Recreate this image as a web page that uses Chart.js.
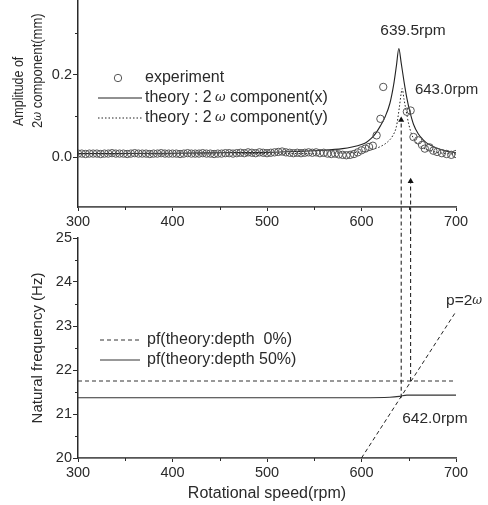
<!DOCTYPE html>
<html lang="en">
<head>
<meta charset="UTF-8">
<title>Amplitude and natural frequency vs rotational speed</title>
<script src="https://cdn.jsdelivr.net/npm/chart.js"></script>
<style>
  * { margin: 0; padding: 0; box-sizing: border-box; }
  body { background: #fff; width: 488px; height: 505px; overflow: hidden; position: relative; }
  .box { position: absolute; left: 0; width: 488px; }
  #topBox { top: 0; height: 230px; }
  #botBox { top: 230px; height: 275px; }
</style>
</head>
<body>

<div class="box" id="topBox"><canvas id="ampChart" width="488" height="230"></canvas></div>
<div class="box" id="botBox"><canvas id="freqChart" width="488" height="275"></canvas></div>

<script>
// ---- data ----
const expRpm = [300,304,308,312,316,320,324,328,332,336,340,344,348,352,356,360,364,368,372,376,
  380,384,388,392,396,400,404,408,412,416,420,424,428,432,436,440,444,448,452,456,460,464,468,472,476,
  480,484,488,492,496,500,504,508,512,516,520,524,528,532,536,540,544,548,552,556,560,564,568,572,576,
  580,584,588,592,596,600,604,608,612,616,620,623,648,652,655,660,664,667,672,676,680,685,690,695,700];
const expAmp = [0.009,0.009,0.008,0.009,0.009,0.009,0.008,0.009,0.009,0.010,0.009,0.009,0.009,0.008,0.009,0.010,0.009,0.009,0.009,0.008,
  0.009,0.009,0.010,0.009,0.009,0.009,0.009,0.008,0.009,0.010,0.009,0.009,0.009,0.010,0.009,0.009,0.008,0.009,0.009,0.010,0.010,0.009,0.010,0.011,0.010,
  0.012,0.011,0.010,0.012,0.011,0.010,0.011,0.012,0.013,0.014,0.012,0.011,0.010,0.011,0.010,0.011,0.012,0.011,0.012,0.010,0.011,0.009,0.008,0.009,0.007,
  0.006,0.005,0.006,0.008,0.012,0.017,0.021,0.025,0.028,0.053,0.093,0.170,0.110,0.113,0.049,0.041,0.030,0.021,0.024,0.016,0.013,0.010,0.008,0.006,0.008];

const thXRpm = [300,400,450,500,530,560,580,590,600,605,610,615,620,625,630,634,637,639.5,642,645,648,651,655,660,665,670,680,690,700];
const thXAmp = [0.009,0.010,0.011,0.012,0.014,0.017,0.021,0.025,0.031,0.036,0.045,0.058,0.076,0.098,0.130,0.175,0.222,0.263,0.228,0.183,0.143,0.112,0.080,0.057,0.043,0.033,0.022,0.015,0.011];

const thYRpm = [300,400,500,560,600,610,620,628,633,637,640,642,643,645,647,650,653,657,662,670,680,690,700];
const thYAmp = [0.008,0.008,0.009,0.010,0.013,0.018,0.026,0.038,0.052,0.075,0.120,0.155,0.166,0.140,0.115,0.080,0.056,0.038,0.027,0.018,0.012,0.009,0.008];

const pf0Rpm = [300,700];
const pf0Hz = [21.75,21.75];
const pf50Rpm = [300,600,630,640,648,700];
const pf50Hz = [21.37,21.37,21.38,21.40,21.43,21.43];
const p2wRpm = [600,700];
const p2wHz = [20,23.33];

const arrowRpm = [642,652];
const arrowBaseHz = [21.37,21.75];
const arrowTipAmp = [0.09,-0.058];

const xTicks = [300,350,400,450,500,550,600,650,700];
const ampTicks = [0,0.1,0.2,0.3];
const hzTicks = [20,20.5,21,21.5,22,22.5,23,23.5,24,24.5,25];

// ---- helpers ----
const FAM = '"Liberation Sans", Arial, sans-serif';
const INK = '#2a2a2a';
const pts = (xs, ys) => xs.map((x, i) => ({ x: x, y: ys[i] }));

function richText(ctx, str, x, y, size, align) {
  const parts = str.split('ω');
  const segs = [];
  parts.forEach((p, i) => {
    if (p) segs.push([p, size + 'px ' + FAM]);
    if (i < parts.length - 1) segs.push(['ω', 'italic ' + Math.round(size * 0.8) + 'px "DejaVu Serif", serif']);
  });
  let w = 0;
  segs.forEach(s => { ctx.font = s[1]; w += ctx.measureText(s[0]).width; });
  let cx = align === 'center' ? x - w / 2 : x;
  ctx.textAlign = 'left';
  ctx.textBaseline = 'middle';
  segs.forEach(s => { ctx.font = s[1]; ctx.fillText(s[0], cx, y); cx += ctx.measureText(s[0]).width; });
}

// titles, notes, legend and short minor ticks
const decor = {
  id: 'decor',
  afterDraw(chart, args, o) {
    const { ctx, scales: { x, y } } = chart;
    ctx.save();
    ctx.fillStyle = INK;
    ctx.strokeStyle = INK;

    // minor ticks
    ctx.lineWidth = 1;
    ctx.beginPath();
    (o.minorX || []).forEach(v => { const px = Math.round(x.getPixelForValue(v)) + 0.5; ctx.moveTo(px, x.top); ctx.lineTo(px, x.top + 3); });
    (o.minorY || []).forEach(v => { const py = Math.round(y.getPixelForValue(v)) + 0.5; ctx.moveTo(y.right, py); ctx.lineTo(y.right - 3, py); });
    ctx.stroke();

    (o.titles || []).forEach(t => {
      ctx.save();
      ctx.translate(t.x, t.y);
      if (t.rot) ctx.rotate(-Math.PI / 2);
      if (t.sx) ctx.scale(t.sx, 1);
      richText(ctx, t.text, 0, 0, t.size, t.align);
      ctx.restore();
    });

    (o.notes || []).forEach(n => {
      richText(ctx, n.text, x.getPixelForValue(n.rpm), y.getPixelForValue(n.val), n.size, n.align);
    });

    (o.legend || []).forEach(l => {
      const ds = chart.data.datasets[l.ds];
      ctx.save();
      ctx.strokeStyle = ds.borderColor;
      ctx.lineWidth = 1;
      if (l.kind === 'point') {
        ctx.beginPath();
        ctx.arc(l.x1, l.y, ds.pointRadius, 0, Math.PI * 2);
        ctx.stroke();
      } else {
        ctx.setLineDash(ds.borderDash || []);
        ctx.beginPath();
        ctx.moveTo(l.x1, l.y);
        ctx.lineTo(l.x2, l.y);
        ctx.stroke();
      }
      ctx.restore();
      richText(ctx, l.text, l.tx, l.y, l.size, 'left');
    });
    ctx.restore();
  }
};

function axisX(height) {
  return {
    type: 'linear', min: 300, max: 700,
    afterBuildTicks: s => { s.ticks = xTicks.map(v => ({ value: v })); },
    afterFit: s => { s.height = height; s.paddingLeft = 0; s.paddingRight = 0; },
    ticks: { callback: v => (v % 100 === 0 ? v : ''), padding: 2, maxRotation: 0, autoSkip: false, color: INK, font: { size: 14.5 } },
    grid: { drawOnChartArea: false, tickLength: 4, tickColor: c => (c.tick && c.tick.value % 100 === 0 ? INK : 'rgba(0,0,0,0)') },
    border: { color: '#555', width: 1.8 }
  };
}

function axisY(min, max, list, isMajor, fmt) {
  return {
    min: min, max: max,
    afterBuildTicks: s => { s.ticks = list.map(v => ({ value: v })); },
    afterFit: s => { s.width = 78; s.paddingTop = 0; s.paddingBottom = 0; },
    ticks: { callback: v => (isMajor(v) ? fmt(v) : ''), padding: 1, autoSkip: false, color: INK, font: { size: 14.5 } },
    grid: { drawOnChartArea: false, tickLength: 5, tickColor: c => (c.tick && isMajor(c.tick.value) ? INK : 'rgba(0,0,0,0)') },
    border: { color: INK, width: 1.5 }
  };
}

function arrowSet(i, fromVal, toVal, head) {
  return {
    data: [{ x: arrowRpm[i], y: fromVal }, { x: arrowRpm[i], y: toVal }],
    borderColor: '#111', borderWidth: 1, borderDash: [4, 3],
    pointStyle: 'triangle', pointRadius: c => (head && c.dataIndex === 1 ? 3.5 : 0),
    pointBackgroundColor: '#111', pointBorderWidth: 0,
    clip: false
  };
}

Chart.defaults.font.family = FAM;
Chart.defaults.color = INK;

const ampMajor = v => Math.abs(v) < 1e-9 || Math.abs(v - 0.2) < 1e-9;

new Chart(document.getElementById('ampChart'), {
  type: 'line',
  data: {
    datasets: [
      { data: pts(expRpm, expAmp), showLine: false, pointStyle: 'circle', pointRadius: 3.7, pointBorderWidth: 1,
        borderColor: '#555', pointBorderColor: '#555', pointBackgroundColor: 'rgba(0,0,0,0)' },
      { data: pts(thXRpm, thXAmp), borderColor: '#222', borderWidth: 1.1, pointRadius: 0, cubicInterpolationMode: 'monotone' },
      { data: pts(thYRpm, thYAmp), borderColor: '#222', borderWidth: 1, borderDash: [1.5, 2], pointRadius: 0, cubicInterpolationMode: 'monotone' },
      arrowSet(0, -0.3, arrowTipAmp[0], true),
      arrowSet(1, -0.3, arrowTipAmp[1], true)
    ]
  },
  options: {
    responsive: false, animation: false, events: [],
    layout: { autoPadding: false, padding: { left: 0, right: 32, top: 0, bottom: 0 } },
    plugins: {
      legend: { display: false }, tooltip: { enabled: false },
      decor: {
        minorX: [350, 450, 550, 650],
        minorY: [0.1, 0.3],
        titles: [
          { text: 'Amplitude of', x: 19, y: 126, rot: true, size: 14.5, sx: 0.86, align: 'left' },
          { text: '2ω component(mm)', x: 38, y: 128, rot: true, size: 14.5, sx: 0.9, align: 'left' }
        ],
        notes: [
          { text: '639.5rpm', rpm: 654.5, val: 0.305, size: 15.5, align: 'center' },
          { text: '643.0rpm', rpm: 656.5, val: 0.163, size: 15, align: 'left' }
        ],
        legend: [
          { kind: 'point', ds: 0, x1: 118, y: 78, tx: 145, text: 'experiment', size: 16 },
          { kind: 'line', ds: 1, x1: 98, x2: 142, y: 98, tx: 145, text: 'theory : 2\u2009ω component(x)', size: 16 },
          { kind: 'line', ds: 2, x1: 98, x2: 142, y: 118, tx: 145, text: 'theory : 2\u2009ω component(y)', size: 16 }
        ]
      }
    },
    scales: {
      x: axisX(23),
      y: axisY(-0.12, 0.38, ampTicks, ampMajor, v => v.toFixed(1))
    }
  },
  plugins: [decor]
});

const hzMajor = v => Number.isInteger(v);

new Chart(document.getElementById('freqChart'), {
  type: 'line',
  data: {
    datasets: [
      { data: pts(pf0Rpm, pf0Hz), borderColor: '#333', borderWidth: 1, borderDash: [4, 3], pointRadius: 0 },
      { data: pts(pf50Rpm, pf50Hz), borderColor: '#333', borderWidth: 1.1, pointRadius: 0, cubicInterpolationMode: 'monotone' },
      { data: pts(p2wRpm, p2wHz), borderColor: '#222', borderWidth: 1, borderDash: [4, 3], pointRadius: 0 },
      arrowSet(0, arrowBaseHz[0], 26, false),
      arrowSet(1, arrowBaseHz[1], 26, false)
    ]
  },
  options: {
    responsive: false, animation: false, events: [],
    layout: { autoPadding: false, padding: { left: 0, right: 32, top: 8, bottom: 0 } },
    plugins: {
      legend: { display: false }, tooltip: { enabled: false },
      decor: {
        minorX: [350, 450, 550, 650],
        minorY: [20.5, 21.5, 22.5, 23.5, 24.5],
        titles: [
          { text: 'Natural frequency (Hz)', x: 38, y: 118, rot: true, size: 15, align: 'center' },
          { text: 'Rotational speed(rpm)', x: 267, y: 264, size: 16, align: 'center' }
        ],
        notes: [
          { text: 'p=2ω', rpm: 689.5, val: 23.57, size: 15.5, align: 'left' },
          { text: '642.0rpm', rpm: 643, val: 20.9, size: 15.5, align: 'left' }
        ],
        legend: [
          { kind: 'line', ds: 0, x1: 100, x2: 140, y: 110, tx: 147, text: 'pf(theory:depth  0%)', size: 16 },
          { kind: 'line', ds: 1, x1: 100, x2: 140, y: 130, tx: 147, text: 'pf(theory:depth 50%)', size: 16 }
        ]
      }
    },
    scales: {
      x: axisX(47),
      y: axisY(20, 25, hzTicks, hzMajor, v => String(v))
    }
  },
  plugins: [decor]
});
</script>

</body>
</html>
